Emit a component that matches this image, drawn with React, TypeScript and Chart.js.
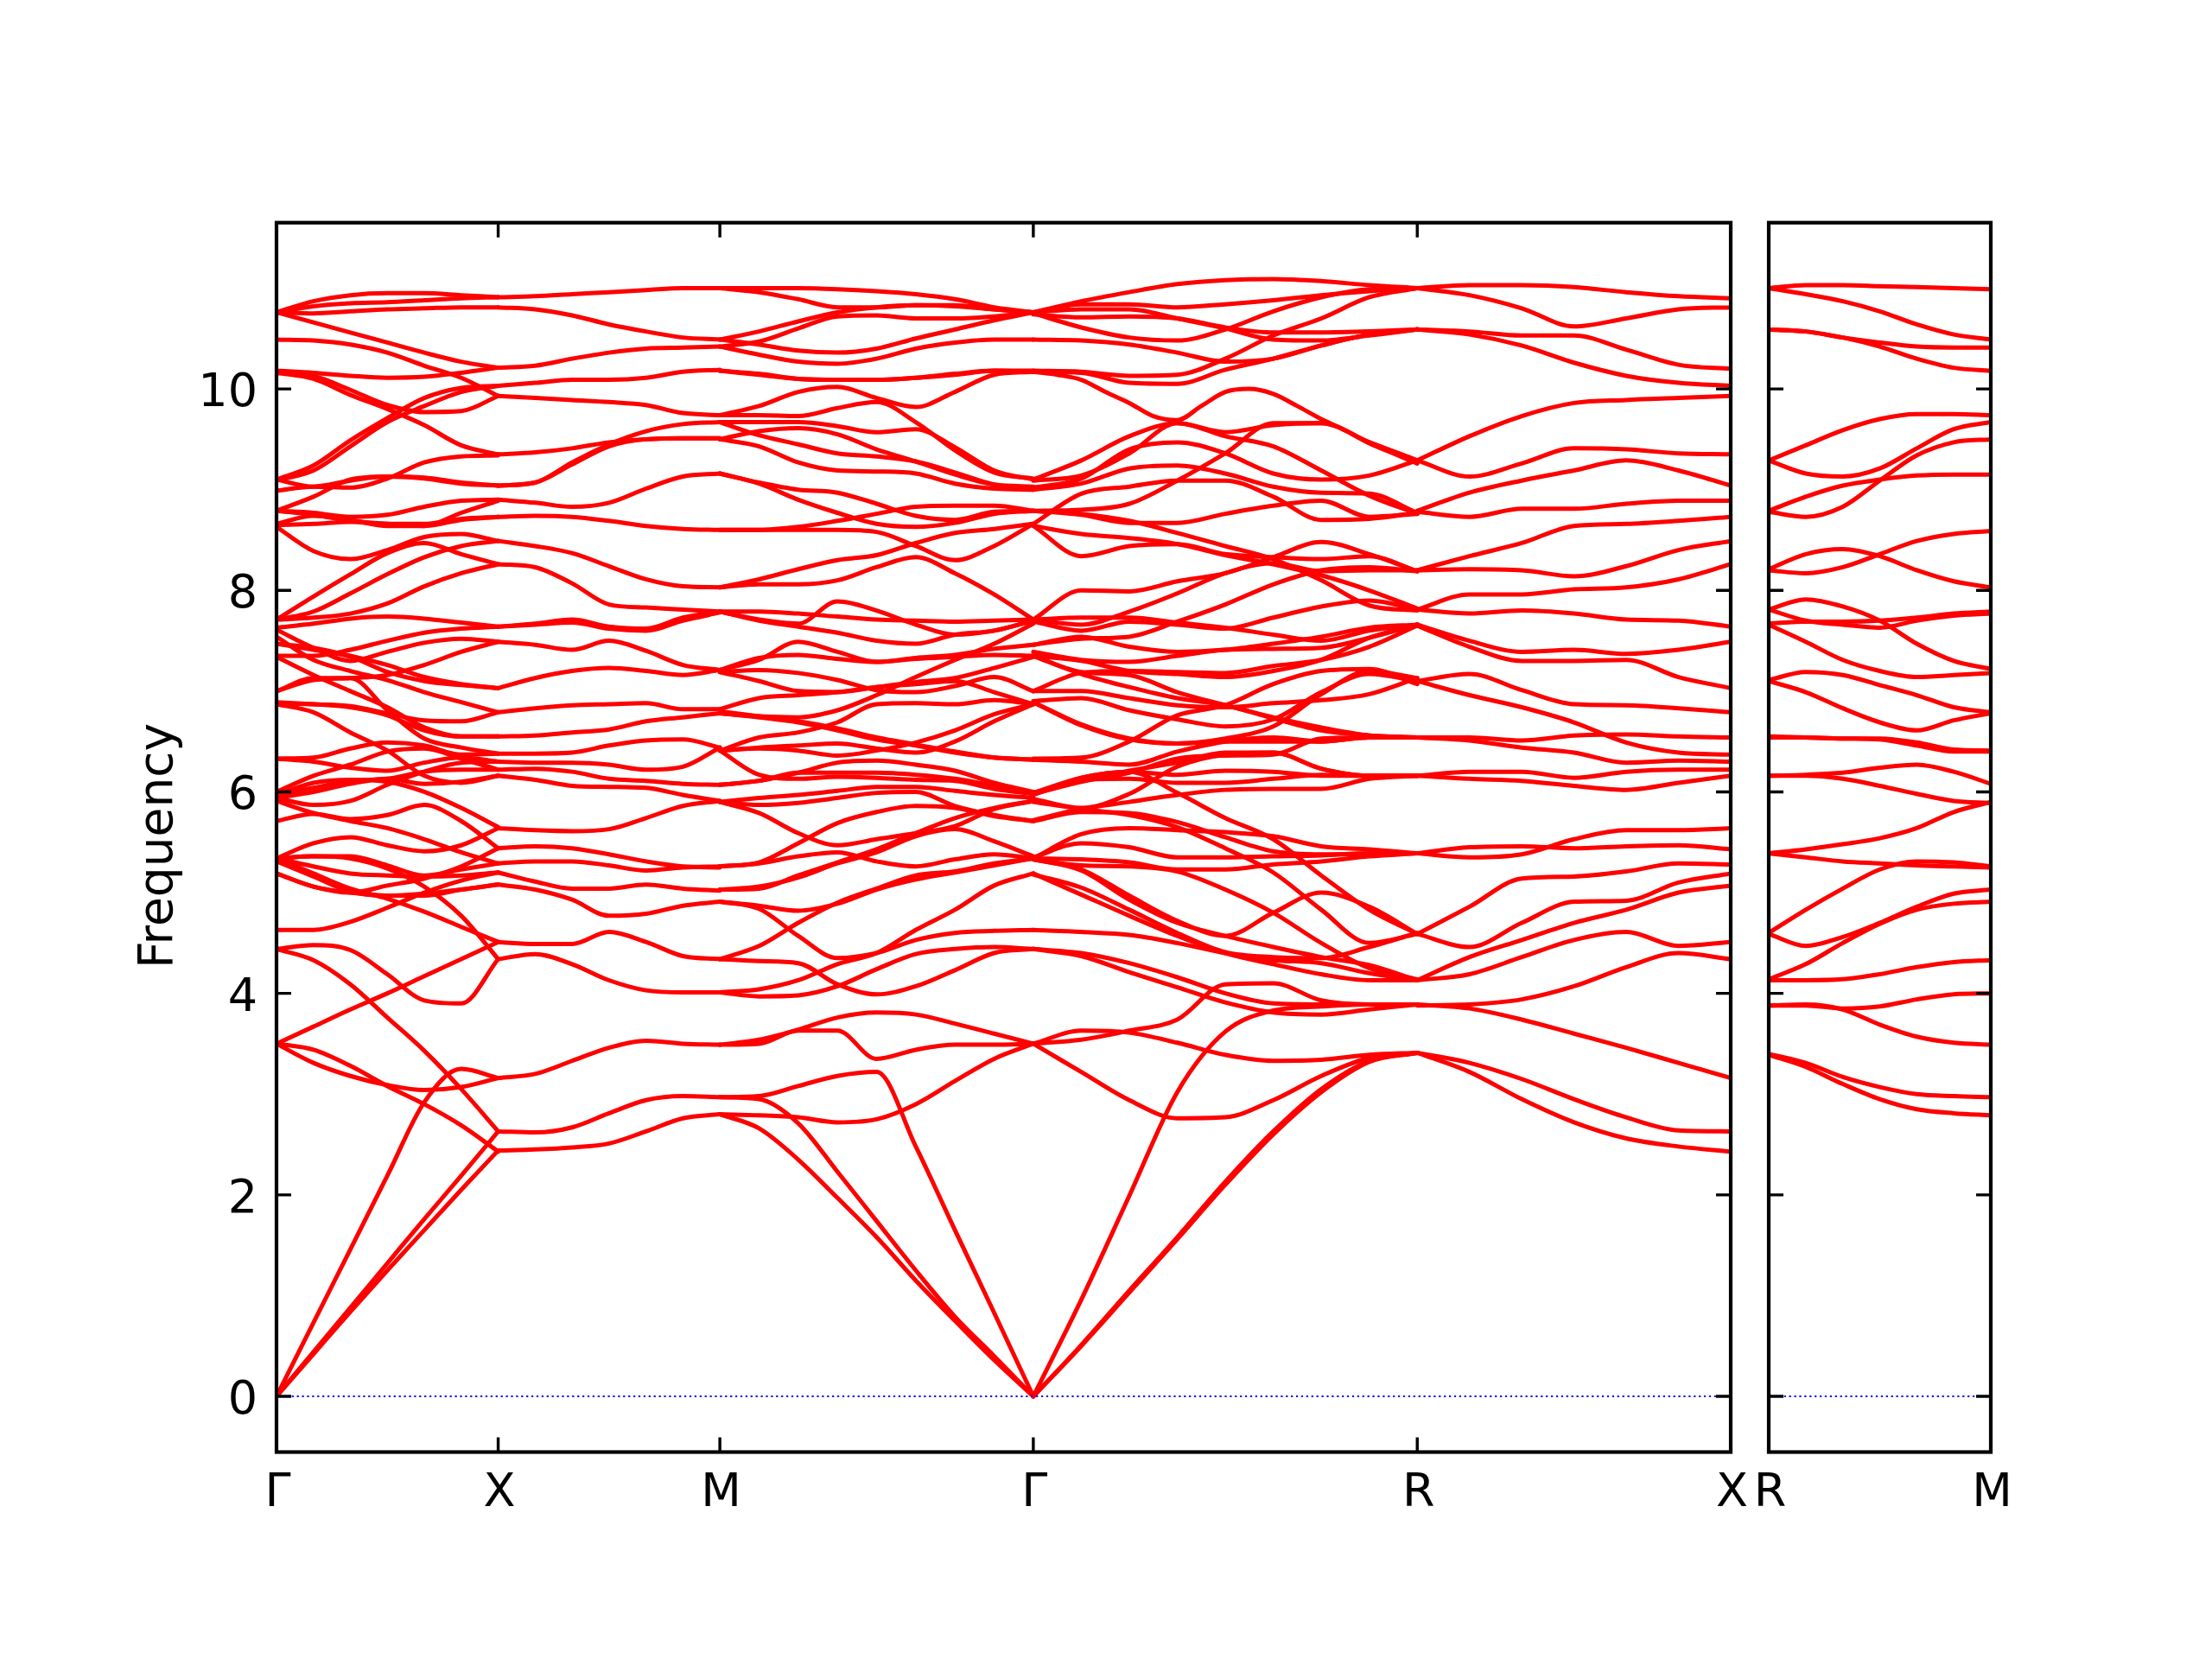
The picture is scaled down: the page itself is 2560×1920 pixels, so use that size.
import React, { useEffect, useRef } from "react";
import { Chart, registerables } from "chart.js";

Chart.register(...registerables);

const pathTickValues = [0, 1, 2, 3.414, 5.146, 6.56];
const pathTickLabels = ["Γ", "X", "M", "Γ", "R", "X"];
const sideTickValues = [0, 1];
const sideTickLabels = ["R", "M"];
const frequencyTicks = [0, 2, 4, 6, 8, 10];
const frequencyMin = -0.553;
const frequencyMax = 11.65;
const zeroLineValues = [0, 0];
const yAxisLabel = "Frequency";

const gammaXBands = [
  [10.76,10.87,10.93,10.95,10.95,10.93,10.91],
  [10.76,10.82,10.85,10.86,10.88,10.90,10.91],
  [10.76,10.75,10.77,10.79,10.80,10.81,10.81],
  [10.76,10.66,10.56,10.46,10.36,10.27,10.21],
  [10.49,10.48,10.44,10.36,10.23,10.11,9.93],
  [10.18,10.16,10.13,10.11,10.12,10.16,10.21],
  [10.17,10.13,9.99,9.84,9.77,9.78,9.93],
  [10.16,10.10,9.94,9.80,9.64,9.44,9.35],
  [9.10,9.24,9.49,9.71,9.91,10.01,10.03],
  [9.09,9.19,9.43,9.67,9.83,9.97,10.03],
  [9.10,9.03,9.09,9.13,9.12,9.07,9.04],
  [8.99,9.03,9.02,9.11,9.27,9.33,9.34],
  [8.79,8.93,9.10,9.13,9.11,9.06,9.04],
  [8.79,8.77,8.73,8.75,8.83,8.89,8.90],
  [8.79,8.75,8.69,8.66,8.64,8.77,8.89],
  [8.66,8.74,8.70,8.64,8.64,8.70,8.73],
  [8.65,8.66,8.68,8.66,8.66,8.71,8.73],
  [8.63,8.39,8.31,8.40,8.53,8.56,8.49],
  [7.71,7.94,8.16,8.37,8.47,8.36,8.26],
  [7.71,7.79,7.97,8.16,8.33,8.44,8.49],
  [7.71,7.73,7.77,7.87,8.04,8.17,8.26],
  [7.63,7.67,7.72,7.74,7.72,7.68,7.64],
  [7.35,7.35,7.41,7.50,7.58,7.62,7.64],
  [7.61,7.43,7.30,7.39,7.48,7.52,7.49],
  [7.00,7.11,7.13,7.16,7.26,7.39,7.49],
  [7.47,7.43,7.35,7.26,7.14,7.07,7.03],
  [7.47,7.41,7.34,7.19,7.10,7.06,7.03],
  [6.89,6.87,6.85,6.78,6.71,6.70,6.79],
  [7.54,7.31,7.20,7.11,6.99,6.89,6.79],
  [7.00,7.13,7.13,6.81,6.53,6.44,6.38],
  [7.34,7.16,7.00,6.84,6.64,6.55,6.55],
  [6.88,6.87,6.84,6.76,6.61,6.55,6.55],
  [6.87,6.79,6.59,6.41,6.16,6.09,6.16],
  [6.33,6.34,6.43,6.49,6.46,6.37,6.38],
  [6.33,6.30,6.24,6.21,6.29,6.34,6.30],
  [6.00,6.16,6.27,6.40,6.43,6.33,6.22],
  [5.97,6.04,6.11,6.13,6.20,6.22,6.22],
  [5.94,5.87,5.91,6.07,6.20,6.29,6.30],
  [5.94,6.00,6.08,6.13,6.08,6.10,6.16],
  [5.71,5.78,5.73,5.77,5.87,5.71,5.44],
  [5.91,5.79,5.71,5.64,5.53,5.40,5.29],
  [5.97,6.09,6.12,6.10,6.00,5.84,5.65],
  [5.34,5.49,5.55,5.47,5.41,5.47,5.64],
  [5.34,5.36,5.36,5.27,5.17,5.23,5.29],
  [5.19,5.06,5.00,5.07,5.14,5.26,5.44],
  [5.31,5.16,5.01,4.97,4.99,5.03,5.08],
  [5.34,5.26,5.19,5.17,5.16,5.17,5.20],
  [5.19,5.06,5.00,4.97,4.97,5.03,5.08],
  [5.34,5.36,5.34,5.24,5.06,4.77,4.34],
  [5.34,5.19,5.04,4.94,4.81,4.66,4.51],
  [4.63,4.63,4.71,4.85,5.00,5.12,5.20],
  [3.50,3.67,3.84,4.00,4.17,4.34,4.51],
  [4.44,4.48,4.43,4.19,3.93,3.90,4.34],
  [4.44,4.33,4.09,3.76,3.43,3.05,2.63],
  [3.50,3.44,3.28,3.08,2.90,2.69,2.43],
  [3.50,3.31,3.18,3.09,3.04,3.07,3.16],
  [0,0.73,1.46,2.19,2.92,3.25,3.16],
  [0,0.44,0.88,1.32,1.76,2.19,2.63],
  [0,0.42,0.84,1.25,1.65,2.05,2.44],
];

const xMBands = [
  [10.91,10.92,10.94,10.96,10.98,11.00,11.00],
  [10.81,10.79,10.73,10.64,10.57,10.51,10.49],
  [10.21,10.23,10.30,10.36,10.40,10.41,10.42],
  [10.03,10.06,10.09,10.09,10.11,10.17,10.19],
  [9.93,9.91,9.89,9.87,9.84,9.76,9.74],
  [9.35,9.37,9.41,9.47,9.50,9.51,9.51],
  [9.04,9.07,9.25,9.43,9.50,9.51,9.51],
  [9.04,9.07,9.27,9.45,9.58,9.65,9.67],
  [8.90,8.87,8.83,8.87,9.01,9.13,9.16],
  [8.73,8.74,8.73,8.69,8.64,8.61,8.60],
  [8.49,8.44,8.37,8.24,8.11,8.04,8.03],
  [8.26,8.23,8.07,7.86,7.83,7.81,7.79],
  [7.64,7.67,7.71,7.64,7.62,7.73,7.79],
  [7.64,7.66,7.68,7.62,7.60,7.70,7.78],
  [7.49,7.46,7.41,7.50,7.40,7.26,7.21],
  [7.03,7.13,7.20,7.23,7.20,7.16,7.21],
  [6.79,6.83,6.86,6.87,6.88,6.82,6.82],
  [6.55,6.56,6.59,6.62,6.70,6.74,6.78],
  [6.38,6.38,6.39,6.46,6.51,6.52,6.44],
  [6.30,6.29,6.29,6.27,6.22,6.25,6.44],
  [6.22,6.23,6.20,6.13,6.11,6.08,6.07],
  [6.16,6.12,6.06,6.05,6.04,5.97,5.91],
  [5.64,5.62,5.61,5.63,5.74,5.86,5.91],
  [5.44,5.46,5.44,5.38,5.31,5.26,5.25],
  [5.29,5.31,5.31,5.27,5.22,5.25,5.26],
  [5.20,5.11,5.04,5.04,5.08,5.04,5.02],
  [5.08,5.03,4.93,4.77,4.79,4.87,4.91],
  [4.51,4.49,4.49,4.61,4.51,4.37,4.34],
  [4.34,4.39,4.29,4.13,4.03,4.01,4.01],
  [3.16,3.20,3.33,3.46,3.53,3.50,3.49],
  [2.63,2.62,2.67,2.81,2.94,2.98,2.97],
  [2.44,2.45,2.47,2.51,2.63,2.76,2.80],
];

const mGammaBands = [
  [11.00,11.00,11.00,10.99,10.97,10.94,10.89,10.81,10.76],
  [11.00,10.96,10.89,10.81,10.81,10.83,10.83,10.79,10.76],
  [10.49,10.57,10.67,10.76,10.81,10.83,10.82,10.79,10.76],
  [10.42,10.47,10.60,10.72,10.73,10.70,10.70,10.72,10.76],
  [10.49,10.44,10.38,10.36,10.40,10.50,10.59,10.68,10.76],
  [10.42,10.34,10.27,10.25,10.30,10.40,10.46,10.49,10.49],
  [10.18,10.15,10.10,10.09,10.09,10.11,10.15,10.18,10.18],
  [10.18,10.14,10.10,10.09,10.09,10.11,10.14,10.18,10.17],
  [9.74,9.83,9.97,10.02,9.91,9.82,9.97,10.14,10.17],
  [9.74,9.74,9.73,9.81,9.87,9.67,9.39,9.17,9.11],
  [9.67,9.67,9.67,9.63,9.57,9.60,9.42,9.19,9.10],
  [9.50,9.58,9.61,9.55,9.40,9.28,9.15,9.05,9.03],
  [9.67,9.54,9.45,9.36,9.33,9.28,9.17,9.05,9.00],
  [9.50,9.43,9.27,9.19,9.18,9.16,9.06,9.01,9.00],
  [9.16,9.07,9.00,8.97,8.86,8.74,8.70,8.78,8.79],
  [9.16,9.06,8.90,8.77,8.66,8.63,8.67,8.76,8.79],
  [8.60,8.60,8.60,8.60,8.58,8.44,8.30,8.44,8.66],
  [8.60,8.60,8.63,8.69,8.76,8.83,8.84,8.84,8.79],
  [8.03,8.11,8.21,8.30,8.35,8.47,8.57,8.61,8.66],
  [8.03,8.06,8.06,8.10,8.23,8.33,8.17,7.96,7.71],
  [7.79,7.71,7.67,7.89,7.80,7.66,7.56,7.60,7.70],
  [7.79,7.79,7.77,7.74,7.71,7.70,7.69,7.70,7.71],
  [7.79,7.70,7.64,7.58,7.50,7.47,7.56,7.60,7.70],
  [7.21,7.31,7.49,7.39,7.29,7.32,7.34,7.36,7.35],
  [7.21,7.33,7.36,7.32,7.29,7.33,7.36,7.42,7.46],
  [7.19,7.21,7.18,7.11,7.01,6.99,7.05,7.14,7.00],
  [7.19,7.10,7.00,6.99,7.04,7.09,7.13,7.23,7.34],
  [6.78,6.75,6.74,6.81,6.96,7.14,7.31,7.47,7.67],
  [6.82,6.93,6.96,6.99,7.04,7.07,7.10,6.99,6.87],
  [6.80,6.75,6.70,6.63,6.54,6.47,6.40,6.34,6.32],
  [6.78,6.74,6.69,6.61,6.52,6.46,6.39,6.34,6.32],
  [6.41,6.54,6.59,6.69,6.87,6.88,6.87,6.91,6.87],
  [6.41,6.44,6.46,6.48,6.43,6.39,6.50,6.70,6.87],
  [6.41,6.43,6.41,6.36,6.41,6.49,6.61,6.77,6.87],
  [6.41,6.17,6.13,6.15,6.14,6.12,6.11,6.03,5.98],
  [6.07,6.11,6.19,6.29,6.31,6.27,6.21,6.09,6.00],
  [6.07,6.11,6.19,6.19,6.19,6.17,6.13,6.06,5.98],
  [5.90,5.94,5.97,6.01,6.05,6.05,6.01,5.97,5.94],
  [5.90,5.87,5.89,5.94,5.99,6.00,5.86,5.77,5.71],
  [5.90,5.79,5.59,5.47,5.53,5.59,5.66,5.83,5.91],
  [5.26,5.30,5.49,5.69,5.80,5.86,5.84,5.76,5.71],
  [5.26,5.29,5.36,5.40,5.31,5.26,5.33,5.38,5.34],
  [5.03,5.06,5.15,5.29,5.40,5.56,5.63,5.51,5.36],
  [5.03,5.04,5.17,5.30,5.43,5.59,5.74,5.84,5.91],
  [4.91,4.87,4.82,4.89,5.03,5.13,5.20,5.27,5.34],
  [4.91,4.84,4.57,4.35,4.40,4.53,4.60,4.62,4.63],
  [4.34,4.47,4.70,4.90,5.04,5.17,5.21,5.29,5.34],
  [4.34,4.32,4.30,4.09,3.99,4.07,4.23,4.40,4.44],
  [4.01,4.04,4.13,4.29,4.40,4.63,4.83,5.07,5.19],
  [4.01,3.97,3.98,4.07,4.24,4.39,4.44,4.46,4.44],
  [3.49,3.50,3.63,3.63,3.35,3.44,3.49,3.49,3.50],
  [3.49,3.54,3.64,3.76,3.81,3.79,3.70,3.60,3.50],
  [2.97,2.98,3.08,3.18,3.22,2.48,1.65,0.83,0],
  [2.97,2.95,2.71,2.23,1.74,1.25,0.79,0.40,0],
  [2.80,2.66,2.35,1.97,1.58,1.15,0.75,0.36,0],
  [2.80,2.79,2.77,2.72,2.75,2.90,3.13,3.35,3.50],
];

const gammaRBands = [
  [10.76,10.87,10.96,11.04,11.08,11.09,11.07,11.03,11.00],
  [10.76,10.84,10.84,10.81,10.84,10.88,10.93,10.97,11.00],
  [10.76,10.79,10.79,10.70,10.60,10.49,10.48,10.53,10.59],
  [10.74,10.71,10.72,10.70,10.61,10.56,10.56,10.57,10.59],
  [10.75,10.61,10.51,10.48,10.59,10.77,10.91,10.99,11.00],
  [10.49,10.48,10.44,10.36,10.27,10.30,10.43,10.54,10.59],
  [10.18,10.17,10.13,10.14,10.30,10.53,10.70,10.91,11.00],
  [10.17,10.16,10.06,10.05,10.19,10.30,10.43,10.54,10.59],
  [10.17,10.14,10.09,9.97,9.86,9.73,9.69,9.83,9.97,10.00,9.95,9.83,9.70,9.59,9.46,9.36,9.26],
  [9.10,9.29,9.53,9.66,9.57,9.64,9.66,9.47,9.29],
  [9.09,9.14,9.36,9.66,9.53,9.43,9.19,8.94,8.76],
  [9.02,9.11,9.40,9.47,9.36,9.16,9.10,9.14,9.29],
  [9.00,9.06,9.21,9.24,9.16,9.03,8.97,8.96,8.77],
  [8.66,8.96,9.03,9.09,9.09,8.93,8.70,8.71,8.77],
  [8.79,8.80,8.86,9.09,9.36,9.66,9.66,9.47,9.29],
  [8.79,8.75,8.67,8.67,8.76,8.84,8.89,8.73,8.76],
  [8.79,8.76,8.69,8.57,8.44,8.31,8.10,7.85,7.80],
  [8.64,8.56,8.52,8.46,8.35,8.26,8.15,8.00,7.82],
  [8.64,8.34,8.44,8.46,8.36,8.33,8.31,8.34,8.19],
  [7.71,8.00,7.99,8.09,8.17,8.33,8.48,8.36,8.19],
  [7.71,7.66,7.79,7.97,8.17,8.27,8.19,8.20,8.20],
  [7.71,7.73,7.73,7.68,7.63,7.56,7.50,7.60,7.66],
  [7.69,7.60,7.69,7.66,7.62,7.73,7.84,7.90,7.81],
  [7.46,7.52,7.54,7.69,7.86,8.06,8.20,8.23,8.19],
  [7.46,7.54,7.44,7.39,7.41,7.47,7.54,7.63,7.66],
  [7.39,7.31,7.29,7.35,7.41,7.42,7.43,7.53,7.66],
  [7.35,7.30,7.20,7.17,7.14,7.20,7.31,7.53,7.66],
  [7.35,7.17,7.04,6.93,6.86,6.73,6.61,6.56,6.54],
  [7.35,7.19,7.16,6.99,6.86,6.74,6.64,6.56,6.54],
  [7.00,7.18,7.20,7.19,7.18,7.25,7.31,7.44,7.65],
  [7.00,7.00,6.93,6.86,6.84,6.88,6.91,6.97,7.13],
  [6.90,6.93,6.81,6.72,6.65,6.72,6.99,7.17,7.10],
  [6.89,6.67,6.53,6.48,6.53,6.65,6.97,7.20,7.13],
  [6.89,6.66,6.52,6.48,6.50,6.50,6.50,6.54,6.54],
  [6.33,6.34,6.50,6.76,6.86,7.07,7.20,7.22,7.07],
  [6.32,6.30,6.27,6.40,6.50,6.54,6.50,6.54,6.54],
  [5.99,6.11,6.21,6.29,6.39,6.39,6.23,6.16,6.16],
  [5.98,6.10,6.19,6.33,6.36,6.37,6.53,6.54,6.54],
  [5.99,6.14,6.20,6.17,6.21,6.20,6.16,6.16,6.16],
  [5.98,6.12,6.13,6.09,6.09,6.13,6.17,6.16,6.16],
  [5.93,5.84,5.98,6.25,6.37,6.39,6.23,6.16,6.16],
  [5.72,5.83,5.90,5.97,6.02,6.03,6.03,6.13,6.16],
  [5.97,6.14,6.20,5.99,5.74,5.53,5.17,4.83,4.59],
  [5.90,5.83,5.77,5.65,5.44,5.20,4.83,4.50,4.59],
  [5.71,5.80,5.79,5.70,5.55,5.41,5.38,5.38,5.39],
  [5.34,5.58,5.64,5.62,5.60,5.56,5.46,5.43,5.39],
  [5.35,5.49,5.45,5.35,5.35,5.36,5.37,5.39,5.39],
  [5.34,5.33,5.30,5.23,5.23,5.28,5.31,5.36,5.39],
  [5.33,5.27,5.26,5.21,5.03,4.80,4.50,4.25,4.14],
  [5.33,5.23,4.97,4.72,4.57,4.80,5.00,4.86,4.59],
  [5.33,5.22,4.93,4.70,4.57,4.46,4.36,4.28,4.13],
  [5.19,4.98,4.77,4.57,4.40,4.29,4.19,4.13,4.13],
  [5.18,5.05,4.83,4.60,4.41,4.36,4.35,4.46,4.60],
  [4.63,4.61,4.58,4.50,4.40,4.33,4.30,4.20,4.13],
  [4.44,4.40,4.30,4.16,4.00,3.90,3.89,3.89,3.89],
  [4.44,4.37,4.21,4.06,3.91,3.81,3.79,3.84,3.89],
  [3.50,3.54,3.63,3.74,4.09,4.10,3.93,3.89,3.89],
  [0,0.96,1.99,3.02,3.62,3.83,3.87,3.89,3.89],
  [0,0.51,1.05,1.58,2.13,2.63,3.05,3.33,3.41],
  [0,0.50,1.03,1.56,2.10,2.60,3.02,3.32,3.41],
  [3.50,3.22,2.94,2.76,2.77,2.94,3.18,3.36,3.41],
  [3.50,3.63,3.61,3.51,3.39,3.33,3.34,3.39,3.41],
];

const rXBands = [
  [11.00,11.03,11.03,11.01,10.96,10.92,10.90],
  [11.00,10.93,10.80,10.62,10.70,10.79,10.81],
  [10.59,10.57,10.53,10.53,10.39,10.24,10.20],
  [10.59,10.54,10.43,10.26,10.13,10.06,10.03],
  [9.29,9.53,9.73,9.86,9.89,9.91,9.93],
  [9.29,9.13,9.26,9.41,9.40,9.36,9.35],
  [8.79,8.97,9.09,9.19,9.29,9.19,9.04],
  [8.78,8.73,8.81,8.81,8.86,8.89,8.89],
  [8.20,8.34,8.47,8.64,8.66,8.69,8.73],
  [8.20,8.21,8.20,8.14,8.24,8.40,8.49],
  [7.81,7.96,7.96,8.01,8.03,8.11,8.26],
  [7.81,7.77,7.80,7.77,7.71,7.70,7.64],
  [7.66,7.50,7.39,7.41,7.37,7.41,7.49],
  [7.65,7.44,7.30,7.30,7.31,7.14,7.03],
  [7.10,7.17,7.01,6.87,6.86,6.83,6.79],
  [7.10,6.96,6.84,6.69,6.49,6.39,6.37],
  [6.54,6.54,6.51,6.56,6.57,6.55,6.54],
  [6.54,6.51,6.44,6.39,6.29,6.31,6.30],
  [6.16,6.20,6.20,6.14,6.20,6.22,6.22],
  [6.16,6.13,6.11,6.06,6.02,6.09,6.16],
  [5.39,5.35,5.38,5.53,5.62,5.62,5.64],
  [5.39,5.45,5.46,5.44,5.46,5.47,5.43],
  [4.59,4.86,5.14,5.16,5.21,5.29,5.28],
  [4.59,4.46,4.70,4.91,4.92,5.10,5.19],
  [4.13,4.36,4.53,4.70,4.83,5.00,5.07],
  [4.13,4.19,4.36,4.53,4.61,4.47,4.51],
  [3.88,3.89,3.94,4.07,4.26,4.40,4.34],
  [3.89,3.85,3.74,3.60,3.46,3.31,3.16],
  [3.41,3.31,3.15,2.95,2.77,2.64,2.63],
  [3.41,3.22,2.95,2.72,2.56,2.48,2.43],
];

const rMBands = [
  [11.00,11.03,11.03,11.02,11.01,11.00,10.99],
  [11.00,10.94,10.87,10.77,10.64,10.54,10.49],
  [10.59,10.57,10.51,10.46,10.42,10.41,10.41],
  [10.59,10.57,10.51,10.42,10.30,10.21,10.18],
  [9.29,9.44,9.59,9.70,9.75,9.75,9.74],
  [9.29,9.16,9.13,9.21,9.41,9.60,9.67],
  [8.79,8.93,9.04,9.10,9.14,9.15,9.15],
  [8.78,8.73,8.83,9.09,9.34,9.47,9.50],
  [8.21,8.36,8.41,8.34,8.20,8.09,8.03],
  [8.20,8.17,8.23,8.36,8.49,8.56,8.59],
  [7.81,7.91,7.84,7.70,7.47,7.30,7.22],
  [7.81,7.70,7.66,7.63,7.70,7.75,7.77],
  [7.67,7.69,7.69,7.70,7.73,7.77,7.79],
  [7.66,7.49,7.31,7.20,7.14,7.16,7.18],
  [7.11,7.19,7.16,7.06,6.96,6.84,6.79],
  [7.10,6.99,6.83,6.69,6.61,6.71,6.78],
  [6.55,6.54,6.53,6.53,6.49,6.42,6.41],
  [6.54,6.54,6.53,6.52,6.46,6.40,6.40],
  [6.16,6.17,6.19,6.24,6.27,6.20,6.08],
  [6.16,6.16,6.13,6.06,5.98,5.91,5.89],
  [5.39,5.43,5.48,5.54,5.64,5.80,5.90],
  [5.39,5.35,5.31,5.29,5.27,5.26,5.25],
  [4.60,4.83,5.04,5.23,5.31,5.30,5.26],
  [4.59,4.47,4.56,4.70,4.86,4.99,5.03],
  [4.14,4.29,4.50,4.69,4.83,4.89,4.91],
  [4.13,4.13,4.14,4.19,4.26,4.31,4.33],
  [3.88,3.88,3.85,3.87,3.94,3.99,4.00],
  [3.88,3.89,3.84,3.69,3.57,3.51,3.49],
  [3.40,3.31,3.17,3.07,3.00,2.98,2.97],
  [3.39,3.27,3.10,2.95,2.85,2.81,2.79],
];

const FONT = "'DejaVu Sans'";
const bandStyle = {
  borderColor: "#ff0000",
  borderWidth: 5,
  borderCapStyle: "round" as const,
  borderJoinStyle: "round" as const,
  pointRadius: 0,
  cubicInterpolationMode: "monotone" as const,
  fill: false,
  parsing: false as const,
};

function segmentDatasets(bands: number[][], start: number, end: number) {
  return bands.map((row) => ({
    ...bandStyle,
    data: row.map((y, i) => ({ x: start + ((end - start) * i) / (row.length - 1), y })),
  }));
}

function zeroLine(start: number, end: number) {
  return {
    borderColor: "#0000ff",
    borderWidth: 2.2,
    borderDash: [2.2, 3.7],
    pointRadius: 0,
    data: [
      { x: start, y: zeroLineValues[0] },
      { x: end, y: zeroLineValues[1] },
    ],
  };
}

const frame = {
  id: "frame",
  afterDatasetsDraw(chart: any) {
    const { ctx, chartArea: a, scales } = chart;
    const len = 17;
    ctx.save();
    ctx.strokeStyle = "#000";
    ctx.lineWidth = 3.4;
    ctx.beginPath();
    scales.x.ticks.forEach((t: any) => {
      const x = scales.x.getPixelForValue(t.value);
      ctx.moveTo(x, a.top);
      ctx.lineTo(x, a.top + len);
      ctx.moveTo(x, a.bottom);
      ctx.lineTo(x, a.bottom - len);
    });
    frequencyTicks.forEach((v) => {
      const y = scales.y.getPixelForValue(v);
      ctx.moveTo(a.left, y);
      ctx.lineTo(a.left + len, y);
      ctx.moveTo(a.right, y);
      ctx.lineTo(a.right - len, y);
    });
    ctx.stroke();
    ctx.lineWidth = 4.2;
    ctx.strokeRect(a.left, a.top, a.right - a.left, a.bottom - a.top);
    ctx.restore();
  },
};

const frequencyLabel = {
  id: "frequencyLabel",
  afterDraw(chart: any) {
    const { ctx } = chart;
    ctx.save();
    ctx.translate(185, 979);
    ctx.rotate(-Math.PI / 2);
    ctx.font = `55px ${FONT}`;
    ctx.fillStyle = "#000";
    ctx.textAlign = "center";
    ctx.textBaseline = "middle";
    ctx.fillText(yAxisLabel, 0, 0);
    ctx.restore();
  },
};

const W = 2560;
const H = 1920;
const TOP = 257.7;
const BOTTOM = 1680.5;

function options(left: number, right: number, xMax: number, xTicks: number[], xLabels: string[], showY: boolean) {
  return {
    responsive: false,
    animation: false as const,
    devicePixelRatio: 1,
    layout: { autoPadding: false, padding: { top: TOP, right: W - right, left: showY ? 0 : left, bottom: 0 } },
    plugins: { legend: { display: false }, tooltip: { enabled: false }, title: { display: false } },
    scales: {
      x: {
        type: "linear" as const,
        min: 0,
        max: xMax,
        grid: { display: false },
        border: { display: false },
        afterFit: (s: any) => { s.height = H - BOTTOM; },
        afterBuildTicks: (s: any) => { s.ticks = xTicks.map((value) => ({ value })); },
        ticks: {
          autoSkip: false,
          maxRotation: 0,
          minRotation: 0,
          padding: 8,
          labelOffset: 1.5,
          color: "#000",
          font: { family: FONT, size: 54 },
          callback: (v: any) => {
            const i = xTicks.indexOf(v);
            return i >= 0 ? xLabels[i] : "";
          },
        },
      },
      y: {
        type: "linear" as const,
        min: frequencyMin,
        max: frequencyMax,
        display: true,
        grid: { display: false },
        border: { display: false },
        afterFit: (s: any) => { s.width = showY ? left : 0; },
        afterBuildTicks: (s: any) => { s.ticks = frequencyTicks.map((value) => ({ value })); },
        ticks: {
          display: showY,
          padding: 14,
          labelOffset: 6,
          color: "#000",
          font: { family: FONT, size: 54 },
        },
      },
    },
  };
}

export default function App() {
  const mainRef = useRef<HTMLCanvasElement>(null);
  const sideRef = useRef<HTMLCanvasElement>(null);
  useEffect(() => {
    const [t0, t1, t2, t3, t4, t5] = pathTickValues;
    const main = new Chart(mainRef.current!, {
      type: "line",
      data: {
        datasets: [
          zeroLine(t0, t5),
          ...segmentDatasets(gammaXBands, t0, t1),
          ...segmentDatasets(xMBands, t1, t2),
          ...segmentDatasets(mGammaBands, t2, t3),
          ...segmentDatasets(gammaRBands, t3, t4),
          ...segmentDatasets(rXBands, t4, t5),
        ] as any,
      },
      options: options(320, 2003, t5, pathTickValues, pathTickLabels, true) as any,
      plugins: [frame, frequencyLabel],
    });
    const side = new Chart(sideRef.current!, {
      type: "line",
      data: {
        datasets: [zeroLine(sideTickValues[0], sideTickValues[1]), ...segmentDatasets(rMBands, sideTickValues[0], sideTickValues[1])] as any,
      },
      options: options(2047, 2304, sideTickValues[1], sideTickValues, sideTickLabels, false) as any,
      plugins: [frame],
    });
    return () => {
      main.destroy();
      side.destroy();
    };
  }, []);
  const canvasStyle: React.CSSProperties = { position: "absolute", left: 0, top: 0, width: W, height: H };
  return (
    <div style={{ position: "absolute", left: 0, top: 0, width: W, height: H, background: "#fff" }}>
      <canvas ref={mainRef} width={W} height={H} style={canvasStyle} />
      <canvas ref={sideRef} width={W} height={H} style={canvasStyle} />
    </div>
  );
}
